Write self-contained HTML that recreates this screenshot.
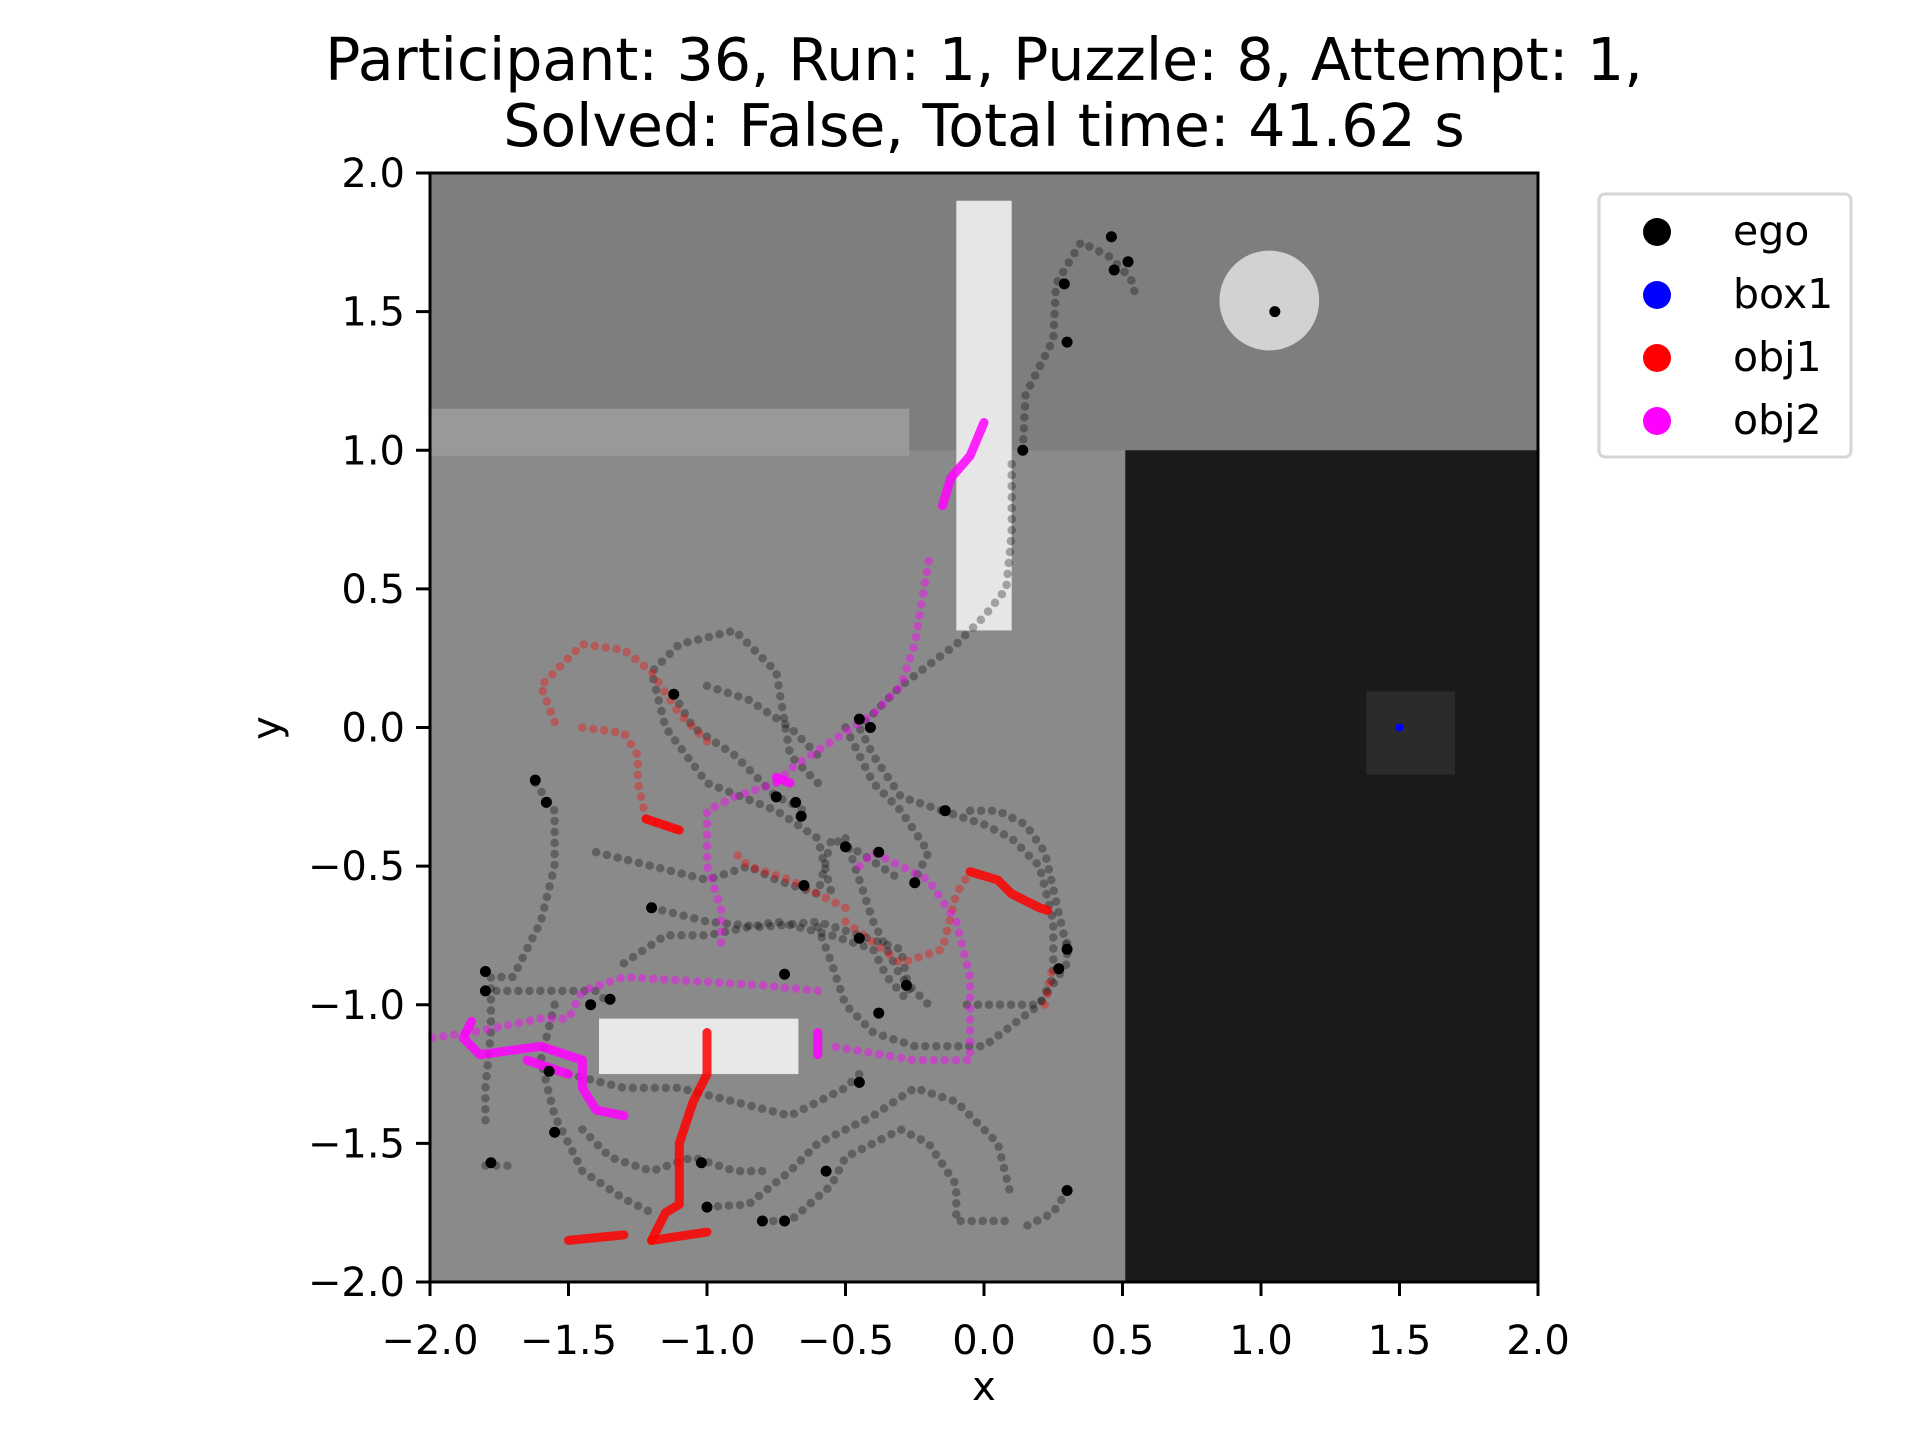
<!DOCTYPE html>
<html><head><meta charset="utf-8"><style>
html,body{margin:0;padding:0;background:#fff;}
svg{display:block;font-family:"DejaVu Sans","Liberation Sans",sans-serif;}
</style></head><body>
<svg id="chart" width="1920" height="1440" viewBox="0 0 1920 1440" xmlns="http://www.w3.org/2000/svg">
<text x="984" y="80" font-size="58.5" text-anchor="middle">Participant: 36, Run: 1, Puzzle: 8, Attempt: 1,</text>
<text x="984" y="146" font-size="58.5" text-anchor="middle">Solved: False, Total time: 41.62 s</text>
<g id="scene"></g>
<g id="marks"></g>
<rect x="430" y="173" width="1108" height="1109" fill="none" stroke="#000" stroke-width="3"/>
<g id="axes"></g>
<text x="984" y="1400" font-size="40" text-anchor="middle">x</text>
<text x="0" y="0" font-size="40" text-anchor="middle" transform="translate(280,728) rotate(-90)">y</text>
<g>
<rect x="1599" y="194" width="252" height="263" rx="6" fill="#fff" stroke="#d6d6d6" stroke-width="3"/>
<g><circle cx="1657" cy="232" r="14" fill="#000"/><text x="1733" y="245" font-size="41">ego</text></g>
<g><circle cx="1657" cy="295" r="14" fill="#00f"/><text x="1733" y="308" font-size="41">box1</text></g>
<g><circle cx="1657" cy="358" r="14" fill="#f00"/><text x="1733" y="371" font-size="41">obj1</text></g>
<g><circle cx="1657" cy="421" r="14" fill="#f0f"/><text x="1733" y="434" font-size="41">obj2</text></g>
</g>
</svg>
<script>
const xTicks=[-2.0,-1.5,-1.0,-0.5,0.0,0.5,1.0,1.5,2.0];
const yTicks=[-2.0,-1.5,-1.0,-0.5,0.0,0.5,1.0,1.5,2.0];
const egoPaths=[
[[0.14,1.0],[0.15,1.2],[0.25,1.4],[0.26,1.6],[0.35,1.75],[0.45,1.7],[0.53,1.62],[0.55,1.55]],
[[0.1,0.95],[0.1,0.7],[0.08,0.5],[0.0,0.4],[-0.1,0.3],[-0.3,0.15],[-0.45,0.0],[-0.4,-0.1],[-0.3,-0.25],[-0.15,-0.3]],
[[-0.6,-0.2],[-0.7,-0.1],[-0.75,0.2],[-0.9,0.35],[-1.1,0.3],[-1.2,0.2],[-1.15,0.0],[-1.0,-0.2],[-0.75,-0.3],[-0.6,-0.4],[-0.55,-0.6]],
[[-1.62,-0.2],[-1.55,-0.3],[-1.55,-0.5],[-1.6,-0.7],[-1.7,-0.9],[-1.78,-0.9],[-1.78,-1.1],[-1.8,-1.3],[-1.8,-1.45]],
[[-1.8,-1.58],[-1.7,-1.58]],
[[-1.8,-0.95],[-1.4,-0.95],[-1.35,-1.0]],
[[-1.4,-0.45],[-1.2,-0.5],[-1.0,-0.55],[-0.85,-0.5],[-0.75,-0.55],[-0.6,-0.6],[-0.55,-0.4],[-0.45,-0.45],[-0.3,-0.55]],
[[-1.2,-0.65],[-1.0,-0.7],[-0.8,-0.72],[-0.6,-0.7],[-0.45,-0.75],[-0.3,-0.8],[-0.27,-0.95]],
[[-1.3,-0.85],[-1.15,-0.75],[-1.0,-0.75],[-0.75,-0.7],[-0.55,-0.75],[-0.4,-0.8],[-0.35,-0.9],[-0.28,-0.98]],
[[-0.6,-0.72],[-0.55,-0.85],[-0.5,-1.0],[-0.4,-1.1],[-0.25,-1.15],[0.0,-1.15],[0.2,-1.0],[0.3,-0.85],[0.3,-0.75]],
[[-0.15,-0.3],[0.0,-0.35],[0.1,-0.4],[0.2,-0.5],[0.25,-0.7],[0.25,-0.9],[0.2,-1.0],[-0.1,-1.0]],
[[-1.5,-1.25],[-1.3,-1.3],[-1.1,-1.3],[-0.9,-1.35],[-0.7,-1.4],[-0.5,-1.3],[-0.45,-1.25]],
[[-1.45,-1.45],[-1.35,-1.55],[-1.2,-1.6],[-1.05,-1.55],[-0.9,-1.6],[-0.8,-1.6]],
[[-0.8,-1.78],[-0.7,-1.78],[-0.55,-1.65],[-0.5,-1.55],[-0.3,-1.45],[-0.2,-1.5],[-0.1,-1.65],[-0.1,-1.78],[0.1,-1.78]],
[[-1.0,-1.73],[-0.85,-1.72],[-0.7,-1.6],[-0.6,-1.5],[-0.4,-1.4],[-0.25,-1.3],[-0.1,-1.35],[0.05,-1.5],[0.1,-1.7]],
[[0.3,-1.67],[0.25,-1.75],[0.15,-1.8]],
[[-0.5,0.0],[-0.4,-0.2],[-0.3,-0.3],[-0.2,-0.45],[-0.25,-0.55]],
[[-0.5,-0.4],[-0.45,-0.55],[-0.4,-0.7],[-0.3,-0.9],[-0.2,-1.0]],
[[-1.12,0.12],[-1.05,0.0],[-0.9,-0.1],[-0.75,-0.25],[-0.7,-0.27],[-0.65,-0.3]],
[[-1.0,0.15],[-0.85,0.1],[-0.7,0.0],[-0.6,-0.1]],
[[-0.05,-0.3],[0.05,-0.3],[0.15,-0.35],[0.22,-0.45],[0.3,-0.8]],
[[-1.55,-1.0],[-1.6,-1.2],[-1.55,-1.4],[-1.45,-1.6],[-1.3,-1.7],[-1.2,-1.75]]
];
const egoDots=[[1.05,1.5],[0.14,1.0],[0.3,1.39],[0.29,1.6],[0.46,1.77],[0.52,1.68],[0.47,1.65],[-1.62,-0.19],[-1.58,-0.27],[-1.12,0.12],[-0.45,0.03],[-0.41,-0.0],[-0.75,-0.25],[-0.68,-0.27],[-0.66,-0.32],[-0.14,-0.3],[-0.5,-0.43],[-0.38,-0.45],[-0.25,-0.56],[-0.65,-0.57],[-1.2,-0.65],[-0.45,-0.76],[-0.28,-0.93],[-0.72,-0.89],[-0.38,-1.03],[-1.35,-0.98],[-1.42,-1.0],[-1.8,-0.88],[-1.8,-0.95],[-1.57,-1.24],[-1.55,-1.46],[-1.78,-1.57],[-0.45,-1.28],[-0.57,-1.6],[-1.0,-1.73],[-0.8,-1.78],[-0.72,-1.78],[0.3,-0.8],[0.27,-0.87],[0.3,-1.67],[-1.02,-1.57]];
const obj1Paths=[
[[-1.55,0.02],[-1.6,0.15],[-1.45,0.3],[-1.3,0.28],[-1.2,0.2],[-1.1,0.05],[-1.0,-0.05]],
[[-1.45,0.0],[-1.3,-0.02],[-1.25,-0.1],[-1.25,-0.2],[-1.22,-0.33],[-1.1,-0.37]],
[[-0.5,-0.65],[-0.7,-0.55],[-0.85,-0.5],[-0.9,-0.45]],
[[-0.5,-0.7],[-0.3,-0.85],[-0.15,-0.8],[-0.1,-0.6],[-0.05,-0.52]],
[[0.22,-1.0],[0.25,-0.85]]
];
const obj1Solid=[
[[-0.05,-0.52],[0.05,-0.55],[0.1,-0.6],[0.2,-0.65],[0.23,-0.66]],
[[-1.22,-0.33],[-1.1,-0.37]],
[[-1.0,-1.1],[-1.0,-1.25],[-1.05,-1.35],[-1.1,-1.5],[-1.1,-1.72],[-1.15,-1.75],[-1.2,-1.85]],
[[-1.2,-1.85],[-1.0,-1.82]],
[[-1.5,-1.85],[-1.3,-1.83]]
];
const obj2Paths=[
[[-0.2,0.6],[-0.25,0.3],[-0.3,0.15],[-0.4,0.05],[-0.55,-0.05],[-0.7,-0.15],[-0.75,-0.2]],
[[-0.75,-0.2],[-0.9,-0.25],[-1.0,-0.3],[-1.0,-0.5],[-0.95,-0.65],[-0.95,-0.78]],
[[-0.45,-0.5],[-0.4,-0.45],[-0.2,-0.55],[-0.1,-0.7],[-0.05,-0.9],[-0.05,-1.2],[-0.25,-1.2],[-0.55,-1.15]],
[[-0.6,-0.95],[-0.8,-0.93],[-1.3,-0.9],[-1.45,-0.95],[-1.5,-1.05],[-1.6,-1.05],[-1.85,-1.1],[-2.0,-1.12]]
];
const obj2Solid=[
[[0.0,1.1],[-0.05,0.98],[-0.12,0.9],[-0.15,0.8]],
[[-1.85,-1.06],[-1.88,-1.12],[-1.82,-1.18],[-1.6,-1.15],[-1.45,-1.2],[-1.45,-1.3],[-1.4,-1.38],[-1.3,-1.4]],
[[-0.6,-1.1],[-0.6,-1.18]],
[[-0.75,-0.18],[-0.7,-0.2]],
[[-1.65,-1.2],[-1.5,-1.25]]
];
const box1Point=[1.5,0.0];

const L=430,T=173,W=1108,H=1109;
function sx(v){return L+(v+2)/4*W;}
function sy(v){return T+(2-v)/4*H;}
const NS='http://www.w3.org/2000/svg';
function mk(tag,attrs,parent){const e=document.createElementNS(NS,tag);for(const k in attrs)e.setAttribute(k,attrs[k]);parent.appendChild(e);return e;}
const scene=document.getElementById('scene');
function rectD(x0,y0,x1,y1,fill,name){const r=mk('rect',{x:sx(x0),y:sy(y1),width:sx(x1)-sx(x0),height:sy(y0)-sy(y1),fill:fill},scene);

}
rectD(-2,-2,2,2,'#8a8a8a','floor');
rectD(-2,1.0,2,2,'#7e7e7e','back-wall-area');
rectD(0.51,-2,2,1.0,'#1a1a1a','dark-platform');
rectD(1.38,-0.17,1.7,0.13,'#2b2b2b','box1-shape');
rectD(-2,0.98,-0.27,1.15,'#999999','shelf-bar');
rectD(-0.1,0.35,0.1,1.9,'#e6e6e6','white-pillar');
rectD(-1.39,-1.25,-0.67,-1.05,'#e8e8e8','white-block');
const disk=mk('ellipse',{cx:sx(1.03),cy:sy(1.54),rx:0.18*W/4,ry:0.18*H/4,fill:'#d2d2d2'},scene);


const marks=document.getElementById('marks');
function pts(p){return p.map(q=>sx(q[0]).toFixed(1)+','+sy(q[1]).toFixed(1)).join(' ');}
function dotted(list,color,op,name){list.forEach(p=>{const e=mk('polyline',{points:pts(p),fill:'none',stroke:color,'stroke-opacity':op,'stroke-width':8.5,'stroke-linecap':'round','stroke-linejoin':'round','stroke-dasharray':'0 11'},marks);

});}
function solid(list,color,name){list.forEach(p=>{const e=mk('polyline',{points:pts(p),fill:'none',stroke:color,'stroke-opacity':0.85,'stroke-width':9,'stroke-linecap':'round','stroke-linejoin':'round'},marks);

});}
dotted(egoPaths,'#000',0.3,'ego-path');
dotted(obj1Paths,'#f00',0.35,'obj1-path');
dotted(obj2Paths,'#f0f',0.45,'obj2-path');
solid(obj1Solid,'#f00','obj1-dense-path');
solid(obj2Solid,'#f0f','obj2-dense-path');
egoDots.forEach(d=>{const c=mk('circle',{cx:sx(d[0]),cy:sy(d[1]),r:5.5,fill:'#000'},marks);

});
const b=mk('circle',{cx:sx(box1Point[0]),cy:sy(box1Point[1]),r:4,fill:'#00f'},marks);


const axes=document.getElementById('axes');
function fmt(v){return (v<0?'\u2212':'')+Math.abs(v).toFixed(1);}
xTicks.forEach(v=>{const x=sx(v);
const t=mk('line',{x1:x,y1:1282,x2:x,y2:1296,stroke:'#000','stroke-width':3},axes);


const lb=mk('text',{x:x,y:1354,'font-size':40,'text-anchor':'middle'},axes);lb.textContent=fmt(v);

});
yTicks.forEach(v=>{const y=sy(v);
const t=mk('line',{x1:416,y1:y,x2:430,y2:y,stroke:'#000','stroke-width':3},axes);


const lb=mk('text',{x:405,y:y+14,'font-size':40,'text-anchor':'end'},axes);lb.textContent=fmt(v);

});
</script>
</body></html>
